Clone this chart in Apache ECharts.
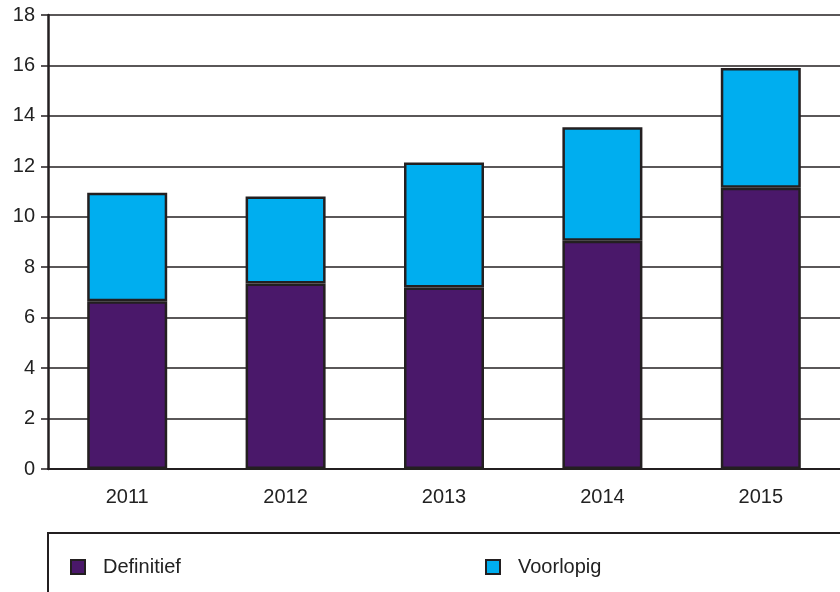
<!DOCTYPE html>
<html>
<head>
<meta charset="utf-8">
<script src="https://cdn.jsdelivr.net/npm/echarts@6/dist/echarts.min.js"></script>
<style>
  html, body { margin: 0; padding: 0; background: #fff; }
  #chart { width: 840px; height: 592px; }
</style>
</head>
<body>
<div id="chart"></div>
<script>
// data
const years = ['2011', '2012', '2013', '2014', '2015'];
const definitief = [6.65, 7.35, 7.2, 9.05, 11.15];
const voorlopig = [4.3, 3.45, 4.95, 4.5, 4.75];
const yTicks = [0, 2, 4, 6, 8, 10, 12, 14, 16, 18];

const chart = echarts.init(document.getElementById('chart'));
const font = 'Liberation Sans, Arial, sans-serif';
const ink = '#231f20';

let legendText = { fontSize: 20, color: '#222', padding: [0, 0, 0, 13], fontFamily: font };

let option = {
  animation: false,
  textStyle: { fontFamily: font },
  grid: { left: 48, top: 15, right: -3, bottom: 123 },
  xAxis: {
    type: 'category',
    data: years,
    axisLine: { lineStyle: { color: ink, width: 2 } },
    axisTick: { length: 8, lineStyle: { color: ink, width: 1.5 } },
    axisLabel: { fontSize: 20, color: '#222', margin: 18, fontFamily: font }
  },
  yAxis: {
    type: 'value',
    min: yTicks[0],
    max: yTicks[yTicks.length - 1],
    interval: 2,
    axisLine: { show: true, lineStyle: { color: ink, width: 2.5 } },
    axisTick: { show: true, length: 7, lineStyle: { color: ink, width: 1.5 } },
    axisLabel: { fontSize: 20, color: '#222', margin: 13, fontFamily: font },
    splitLine: { lineStyle: { color: ink, width: 1.5 } }
  },
  legend: [
    {
      data: ['Definitief'],
      left: 70, top: 557, padding: 0,
      icon: 'rect', itemWidth: 14, itemHeight: 14,
      itemStyle: { borderColor: ink, borderWidth: 2 },
      textStyle: legendText
    },
    {
      data: ['Voorlopig'],
      left: 485, top: 557, padding: 0,
      icon: 'rect', itemWidth: 14, itemHeight: 14,
      itemStyle: { borderColor: ink, borderWidth: 2 },
      textStyle: legendText
    }
  ],
  graphic: [
    {
      type: 'rect',
      shape: { x: 48, y: 533, width: 820, height: 100 },
      style: { fill: 'none', stroke: ink, lineWidth: 2 },
      silent: true
    }
  ],
  series: [
    {
      name: 'Definitief',
      type: 'bar',
      stack: 'total',
      barWidth: 80,
      data: definitief,
      itemStyle: { color: '#4a186a', borderColor: ink, borderWidth: 2.5 }
    },
    {
      name: 'Voorlopig',
      type: 'bar',
      stack: 'total',
      barWidth: 80,
      data: voorlopig,
      itemStyle: { color: '#00aeef', borderColor: ink, borderWidth: 2.5 }
    }
  ]
};
chart.setOption(option);
</script>
</body>
</html>
